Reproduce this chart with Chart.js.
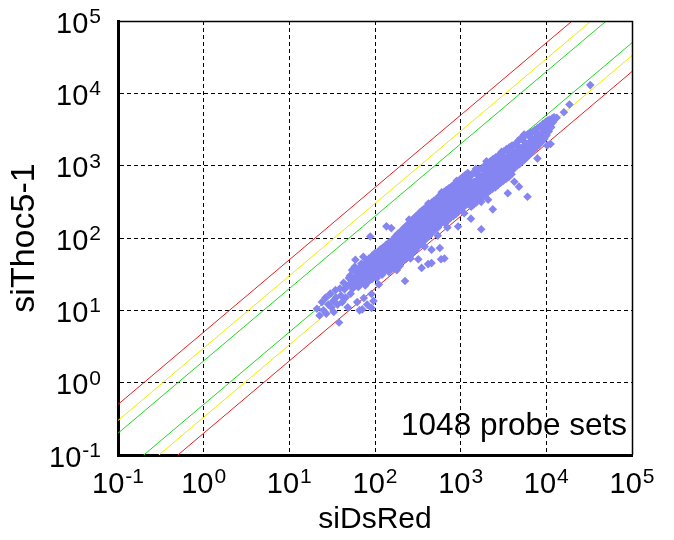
<!DOCTYPE html>
<html>
<head>
<meta charset="utf-8">
<script src="https://cdn.jsdelivr.net/npm/chart.js@4/dist/chart.umd.min.js"></script>
<style>
html,body{margin:0;padding:0;background:#fff;}
#wrap{width:674px;height:540px;}
</style>
</head>
<body>
<div id="wrap"><canvas id="c" width="674" height="540"></canvas></div>
<script>
// ---------- data ----------
const xAxisTitle = 'siDsRed';
const yAxisTitle = 'siThoc5-1';
const annotationText = '1048 probe sets';
const tickValues = [0.1, 1, 10, 100, 1000, 10000, 100000];
const tickBase = '10';
const tickExponents = ['-1', '0', '1', '2', '3', '4', '5'];
// fold-change reference lines (y = factor * x)
const refFactors = [5, 3, 2, 0.5, 0.333, 0.2];
const refColors = ['#e82020', '#ecec00', '#20d820', '#20d820', '#ecec00', '#e82020'];
// probe sets: [siDsRed, siThoc5-1]
const probes = [
[21,10.5],[22.5,8.5],[24,13],[25,10],[26.5,15],[27,9],[28.5,12],[30,17],[31,11],[32.5,13.5],[33,9.5],[34.5,19],[35,15],[36.5,12],[38,6.8],[39,20],[40,16],[41.5,13],[43,24],[44,19.5],[45.5,15],[47,22],[48,11],[49.5,28],
[50,22],[51,30],[52,17],[53,26],[54,36],[55,20],[56,28],[57,23],[58,40],[59,50],[60,25],[61,33],[62,13],[63,29],[64,21],[65,38],[66,10],[67,31],[68,24],[69,44],[70,35],[71,10.3],[72,27],[73,55],[74,14.8],[75,40],[76,31],[77,22],[78,47],[79,36],[80,28],[81,12],[82,42],[83,33],[84,25],[85,52],[86,38],[87,30],[88,105],[89,45],[90,35],[91,16.8],[91,10.8],[92,27],[93,57],[94,43],[95,33],[96,13.5],[97,50],[98,39],[99,30],[100,62],[101,46],[102,35],[104,54],[105,28],[106,42],[108,64],[109,50],[110,36],[111,22.8],[112,58],[113,45],[114,33],[116,70],[117,52],[118,40],[120,61],[121,31],[122,47],[124,74],[125,55],[126,40],
[128,62],[130,45],[132,36],[134,80],[136,145],[137,55],[139,42],[141,70],[143,50],[145,34],[147,88],[149,60],[151,47],[153,75],[155,137],[156,40],[158,66],[160,53],[162,95],[164,38],[166,72],[168,57],[170,46],[172,104],[174,80],[176,62],[178,42],[180,90],[182,70],[184,54],[186,115],[188,48],[190,84],[193,66],[195,41],[197,120],[199,95],[202,74],[204,58],[206,48],[209,130],[211,100],[214,80],[216,63],[218,50],[221,140],[224,25.4],[226,105],[228,84],[231,66],[233,52],[236,150],[239,115],[242,92],[245,72],[248,56],[251,160],[254,120],[257,97],[260,78],[263,60],[266,175],[269,130],[272,104],[275,84],[278,63],[281,90],[284,185],[287,140],[290,112],[293,88],[296,68],[300,200],[303,150],[306,120],[309,96],[312,74],[316,210],[319,160],[320,50.8],[323,128],[326,102],[330,80],[334,225],[337,172],[341,136],[345,108],[349,84],[350,38.6],[353,240],[357,182],[361,145],[365,115],[369,90],[373,250],[377,195],[381,152],[385,122],[389,96],[393,265],[397,205],
[129,73.5],[135,47],[140,62],[146,41],[152,87],[157,55],[163,72],[169,47],[175,100],[181,63],[187,82],[194,54],[200,114],[207,72],[213,94],[219,61],[225,128],[232,81],[238,105],[244,68],[250,143],[257,90],[264,116],[271,76],[278,158],[285,100],[292,128],[299,84],[306,174],[314,110],[322,142],[330,92],[338,193],[346,121],[355,156],[364,102],[372,212],[381,133],[390,172],[399,112],
[180,36],[250,180],[260,52],[380,76],
[405,170],[410,260],[415,130],[417,43.6],[420,210],[425,105],[430,180],[435,290],[440,145],[445,230],[450,115],[455,195],[457,45],[457,69],[460,310],[466,160],[472,250],[478,125],[484,205],[490,330],[496,170],[502,130],[508,270],[515,215],[522,160],[529,350],[536,240],[543,140],[550,195],[557,300],[564,380],[571,72.6],[571,230],[578,160],[585,270],[590,50.8],[592,400],[600,205],[608,330],[616,170],[624,250],[632,430],[640,290],[646,52],[648,190],[656,160],[664,350],[672,240],[680,460],[689,300],[698,200],[707,175],[716,380],[725,260],[734,490],[743,320],[752,215],[761,190],[770,410],[780,280],[790,520],[800,350],[810,230],[820,200],[830,440],[840,300],[850,560],[860,380],[870,250],[880,215],[890,470],[900,320],[910,600],[920,400],[930,270],[933,144],[940,230],[950,500],[962,350],[974,640],[986,430],[998,290],[1010,250],[1023,540],[1036,370],[1049,690],[1062,460],[1075,310],[1088,270],[1101,580],[1114,400],[1127,740],[1140,490],[1153,330],[1166,290],[1180,620],[1194,430],[1208,790],[1222,520],[1236,350],[1250,300],
[412,243],[428,167],[443,213],[462,148],[481,130],[500,295],[519,202],[539,259],[560,179],[582,157],[604,356],[627,245],[651,312],[676,216],[702,190],[729,430],[757,295],[786,377],[816,261],[847,229],[879,519],[912,356],[947,455],[983,315],[1020,275],[1059,625],[1100,429],[1142,548],[1186,380],[1231,332],
[420,300],[600,430],[900,620],[540,108],[700,140],[1100,220],
[1265,700],[1280,460],[1295,330],[1310,560],[1318,185],[1325,270],[1340,760],[1356,420],[1372,300],[1388,520],[1404,360],[1420,290],[1437,800],[1454,470],[1471,330],[1488,600],[1505,400],[1523,310],[1541,850],[1560,520],[1579,370],[1598,650],[1617,440],[1636,340],[1656,900],[1676,560],[1696,400],[1716,700],[1738,316],[1738,132],[1737,470],[1758,360],[1780,930],[1802,600],[1824,430],[1846,740],[1869,500],[1892,390],[1915,1000],[1938,640],[1962,460],[1986,800],[2010,540],[2035,420],[2060,1100],[2085,680],[2090,338],[2110,490],[2136,850],[2162,580],[2188,450],[2215,1150],[2242,720],[2270,520],[2298,900],[2326,610],[2355,480],[2370,249],[2384,1230],[2413,770],[2443,560],[2473,960],[2503,650],[2534,500],[2565,1300],[2597,820],[2629,600],[2661,1000],[2694,700],[2727,540],[2760,1380],[2794,880],[2828,640],[2863,1060],[2898,740],[2934,580],[2970,1480],[3006,940],[3043,690],[3080,1120],[3118,800],[3156,620],[3195,1580],[3234,1000],[3274,730],[3314,1180],[3355,840],[3396,660],[3438,1700],[3480,1060],[3523,780],[3550,415],[3566,1250],[3610,900],[3654,700],[3699,1800],[3744,1110],[3790,830],[3837,1320],[3884,950],[3932,760],[3980,1900],
[1272,636],[1330,479],[1380,400],[1430,600],[1480,363],[1530,765],[1590,572],[1650,479],[1710,718],[1770,434],[1830,878],[1900,684],[1970,571],[2040,857],[2110,517],[2190,1007],[2270,795],[2350,682],[2430,996],[2520,617],[2610,1148],[2700,918],[2800,784],[2900,1160],[3000,720],[3110,1337],[3220,1095],[3330,932],[3450,1311],[3570,857],[3700,1554],[3830,1264],[3960,1069],
[1500,900],[2000,1150],[3000,1550],
[4030,1200],[4080,880],[4130,1900],[4180,1050],[4230,600],[4230,1500],[4280,950],[4330,1250],[4385,1950],[4440,1100],[4500,1580],[4550,1000],[4610,1350],[4670,2200],[4730,1180],[4790,513],[4790,1650],[4850,1050],[4910,1400],[4970,2350],[5030,1250],[5100,1750],[5160,1130],[5230,1500],[5300,2450],[5370,1320],[5440,1850],[5510,1200],[5580,1600],[5650,2600],[5720,1420],[5800,1950],[5870,1300],[5950,1700],[6030,372],[6030,2700],[6110,1500],[6190,2050],[6270,1400],[6350,1800],[6440,2850],[6520,1600],[6610,2150],[6700,1500],[6790,1900],[6880,2950],[6970,1700],[7060,2300],[7150,1650],[7250,2050],[7350,3100],[7450,1850],[7550,2450],[7650,1800],[7750,2200],[7870,1260],[7870,3300],[7980,2000],[8100,2600],[8220,1950],[8340,2400],[8460,3500],[8580,2200],[8700,2800],[8830,2150],[8960,2600],[9090,3750],[9220,2400],[9360,3000],[9500,2350],[9640,2800],[9780,4000],[9920,2650],[10070,3250],[10230,1905],[10230,2900],[10380,4200],[10540,3300],[10700,3000],[10860,4300],[11020,3500],[11220,1995],
[4100,1558],[4260,1150],[4420,1370],[4600,1081],[4780,1816],[4960,1339],[5160,1600],[5370,1262],[5580,2120],[5800,1566],[6030,1869],[6270,1473],[6520,2478],[6780,1831],[7050,2186],[7330,1759],[7620,2819],[7920,2138],[8240,2554],[8570,2143],[8910,3297],[9270,2596],[9640,3085],[10030,2608],[10430,3755],[10850,3255],
[5500,2700],
[11400,3400],[11700,4500],[12000,4000],[12300,4680],[13200,4600],[16030,5480],[18620,7000],[32580,13000]
];

// ---------- drawing ----------
const FONT = '"Liberation Sans", Arial, Helvetica, sans-serif';
Chart.defaults.font.family = FONT;
Chart.defaults.color = '#000';

const decorPlugin = {
  id: 'decor',
  afterDraw(chart) {
    const ctx = chart.ctx;
    const xs = chart.scales.x, ys = chart.scales.y;
    const a = chart.chartArea;
    ctx.save();
    // thin top / right frame
    ctx.strokeStyle = '#000';
    ctx.lineWidth = 1.5;
    ctx.beginPath();
    ctx.moveTo(a.left, a.top + 0.5);
    ctx.lineTo(a.right + 0.5, a.top + 0.5);
    ctx.lineTo(a.right + 0.5, a.bottom);
    ctx.stroke();
    // tick labels 10^n
    ctx.fillStyle = '#000';
    ctx.textBaseline = 'alphabetic';
    ctx.textAlign = 'left';
    tickValues.forEach((v, i) => {
      const e = tickExponents[i];
      ctx.font = '29px ' + FONT;
      const wb = ctx.measureText(tickBase).width;
      ctx.font = '21px ' + FONT;
      const we = ctx.measureText(e).width;
      const gap = 1;
      const px = xs.getPixelForValue(v);
      const x0 = px - (wb + gap + we) / 2;
      ctx.font = '29px ' + FONT;
      ctx.fillText(tickBase, x0, 493);
      ctx.font = '21px ' + FONT;
      ctx.fillText(e, x0 + wb + gap, 483);
      const py = ys.getPixelForValue(v);
      const xr = 101;
      ctx.font = '29px ' + FONT;
      ctx.fillText(tickBase, xr - we - gap - wb, py + 11.5);
      ctx.font = '21px ' + FONT;
      ctx.fillText(e, xr - we, py + 2);
    });
    // annotation
    ctx.font = '31.5px ' + FONT;
    ctx.textAlign = 'right';
    ctx.fillText(annotationText, a.right - 5, a.bottom - 20);
    ctx.restore();
  }
};

const datasets = [{
  type: 'scatter',
  data: probes.map(p => ({x: p[0], y: p[1]})),
  pointStyle: 'rectRot',
  pointRadius: 4.3,
  pointBorderWidth: 0,
  pointBackgroundColor: '#8585f2',
  backgroundColor: '#8585f2',
  borderColor: '#8585f2',
  order: 0
}];
refFactors.forEach((f, i) => {
  datasets.push({
    type: 'line',
    data: [
      {x: tickValues[0], y: tickValues[0] * f},
      {x: tickValues[tickValues.length - 1], y: tickValues[tickValues.length - 1] * f}
    ],
    borderColor: refColors[i],
    borderWidth: 1,
    pointRadius: 0,
    fill: false,
    tension: 0,
    order: 1
  });
});

const gridCommon = {color: '#000', lineWidth: 1, drawTicks: false, tickLength: 0};
const borderCommon = {display: true, color: '#000', width: 3, dash: [4, 3]};

new Chart(document.getElementById('c'), {
  type: 'scatter',
  data: {datasets},
  options: {
    responsive: false,
    animation: false,
    devicePixelRatio: 1,
    layout: {padding: {top: 21, right: 42, left: 0, bottom: 0}},
    plugins: {legend: {display: false}, tooltip: {enabled: false}},
    scales: {
      x: {
        type: 'logarithmic',
        position: 'bottom',
        min: tickValues[0],
        max: tickValues[tickValues.length - 1],
        afterBuildTicks: s => { s.ticks = tickValues.map(v => ({value: v})); },
        afterFit: s => { s.height = 85; },
        ticks: {display: false},
        grid: gridCommon,
        border: borderCommon,
        title: {display: true, text: xAxisTitle, color: '#000', font: {size: 30}, padding: {top: 0, bottom: 2}}
      },
      y: {
        type: 'logarithmic',
        position: 'left',
        min: tickValues[0],
        max: tickValues[tickValues.length - 1],
        afterBuildTicks: s => { s.ticks = tickValues.map(v => ({value: v})); },
        afterFit: s => { s.width = 118; },
        ticks: {display: false},
        grid: gridCommon,
        border: borderCommon,
        title: {display: true, text: yAxisTitle, color: '#000', font: {size: 34}, padding: {top: 4, bottom: 0}}
      }
    }
  },
  plugins: [decorPlugin]
});
</script>
</body>
</html>
